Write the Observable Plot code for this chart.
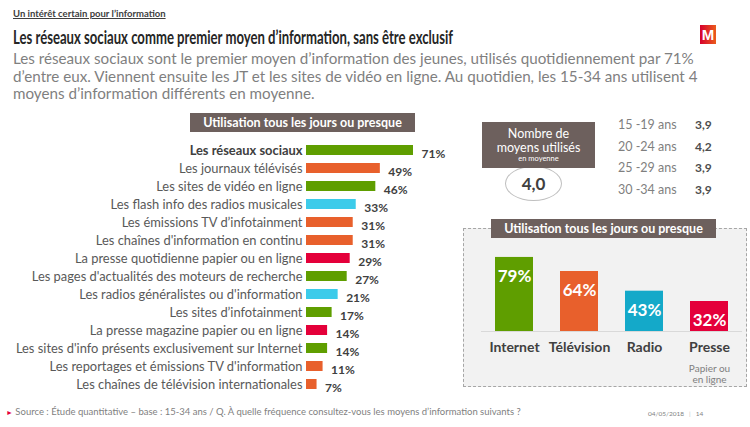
<!DOCTYPE html>
<html>
<head>
<meta charset="utf-8">
<script src="https://cdn.jsdelivr.net/npm/d3@7"></script>
<script src="https://cdn.jsdelivr.net/npm/@observablehq/plot@0.6"></script>
<style>
  html, body { margin: 0; padding: 0; background: #fff; }
  #page { position: relative; width: 750px; height: 427px; overflow: hidden; font-family: Lato, "Open Sans", sans-serif; }
  .abs { position: absolute; }
  #kicker { left: 13px; top: 8px; font-size: 9.5px; font-weight: bold; color: #404040; text-decoration: underline; white-space: nowrap; }
  #title { left: 13px; top: 25px; font-family: Lato, sans-serif; font-size: 19px; font-weight: bold; color: #262626; white-space: nowrap; transform-origin: left top; }
  #subtitle { left: 13px; top: 50px; font-size: 15.2px; line-height: 17.5px; color: #7f7f7f; white-space: nowrap; }
  #logo { left: 700px; top: 25px; width: 16px; height: 19px; background: linear-gradient(90deg, #d6002d, #ea5b1c); color: #fff; font: bold 15px/19px "Liberation Sans", Arial, sans-serif; text-align: center; }
  .hdr { width: 225px; height: 19px; background: #6d605d; color: #fff; font-size: 12.5px; font-weight: bold; text-align: center; line-height: 19px; z-index: 3; white-space: nowrap; }
  #grayBox { left: 463px; top: 228px; width: 284px; height: 159px; background: #f2f2f2; border: 1px dashed #a6a6a6; box-sizing: border-box; z-index: 0; }
  #meanBox { left: 482px; top: 122px; width: 113px; height: 46px; background: #6d605d; color: #fff; text-align: center; z-index: 2; }
  #ellipse { left: 505px; top: 166px; width: 57px; height: 35px; border: 1px solid #bfbfbf; border-radius: 50%; box-sizing: border-box; background: #fff; z-index: 1; text-align: center; font-size: 17px; font-weight: bold; color: #404040; line-height: 33px; }
  #ages { left: 618px; top: 117px; z-index: 2; }
  .ageRow { height: 21.7px; font-size: 12.5px; color: #7f7f7f; position: relative; white-space: nowrap; }
  .ageRow b { position: absolute; left: 77px; color: #4d4d4d; font-size: 12px; }
  #footer { left: 6px; top: 406px; font-size: 9.5px; color: #7f7f7f; white-space: nowrap; }
  #footer .tri { color: #e4003a; font-size: 7px; }
  #date { left: 648px; top: 410px; font-size: 6.5px; color: #7f7f7f; white-space: nowrap; }
</style>
</head>
<body>
<div id="page">
  <div class="abs" id="kicker">Un intérêt certain pour l’information</div>
  <div class="abs" id="title">Les réseaux sociaux comme premier moyen d’information, sans être exclusif</div>
  <div class="abs" id="logo">M</div>
  <div class="abs" id="subtitle">Les réseaux sociaux sont le premier moyen d’information des jeunes, utilisés quotidiennement par 71%<br>d’entre eux. Viennent ensuite les JT et les sites de vidéo en ligne. Au quotidien, les 15-34 ans utilisent 4<br>moyens d’information différents en moyenne.</div>
  <div class="abs hdr" style="left:190px; top:113px;">Utilisation tous les jours ou presque</div>
  <div class="abs" id="grayBox"></div>
  <div class="abs hdr" style="left:491px; top:219px;">Utilisation tous les jours ou presque</div>
  <div class="abs" id="meanBox">
    <div style="font-size:12.5px; line-height:13.5px; padding-top:5px;">Nombre de</div>
    <div style="font-size:12.5px; line-height:13.5px;">moyens utilisés</div>
    <div style="font-size:7.5px; line-height:9px;">en moyenne</div>
  </div>
  <div class="abs" id="ellipse"></div>
  <div class="abs" id="ages"></div>
  <div class="abs" id="footer"><span class="tri">&#9658;</span> Source : Étude quantitative – base : 15-34 ans / Q. À quelle fréquence consultez-vous les moyens d’information suivants ?</div>
  <div class="abs" id="date">04/05/2018 &nbsp;&nbsp;<span style="color:#bfbfbf">|</span>&nbsp;&nbsp; 14</div>
</div>
<script>
// ---- Data ----
const categories = [
  "Les réseaux sociaux",
  "Les journaux télévisés",
  "Les sites de vidéo en ligne",
  "Les flash info des radios musicales",
  "Les émissions TV d’infotainment",
  "Les chaînes d'information en continu",
  "La presse quotidienne papier ou en ligne",
  "Les pages d'actualités des moteurs de recherche",
  "Les radios généralistes ou d'information",
  "Les sites d’infotainment",
  "La presse magazine papier ou en ligne",
  "Les sites d'info présents exclusivement sur Internet",
  "Les reportages et émissions TV d'information",
  "Les chaînes de télévision internationales"
];
const values = [71, 49, 46, 33, 31, 31, 29, 27, 21, 17, 14, 14, 11, 7];
const categoryMedia = ["Internet", "Télévision", "Internet", "Radio", "Télévision", "Télévision", "Presse", "Internet", "Radio", "Internet", "Presse", "Internet", "Télévision", "Télévision"];

const mediaTypes = ["Internet", "Télévision", "Radio", "Presse"];
const mediaValues = [79, 64, 43, 32];
const mediaNotes = ["", "", "", "Papier ou\nen ligne"];

const leftColors = ["#5f9e00", "#e8602c", "#3ccbea", "#e4003a"];
const rightColors = ["#5f9e00", "#e8602c", "#14a9c9", "#e4003a"];

const ageGroups = ["15 -19 ans", "20 -24 ans", "25 -29 ans", "30 -34 ans"];
const ageMeans = ["3,9", "4,2", "3,9", "3,9"];
const overallMean = "4,0";

// ---- HTML bits ----
const title = document.getElementById("title");
title.style.transform = `scaleX(${440 / title.getBoundingClientRect().width})`;

document.getElementById("ellipse").textContent = overallMean;
const ages = document.getElementById("ages");
ageGroups.forEach((g, i) => {
  const row = document.createElement("div");
  row.className = "ageRow";
  row.textContent = g;
  const b = document.createElement("b");
  b.textContent = ageMeans[i];
  row.appendChild(b);
  ages.appendChild(row);
});

const page = document.getElementById("page");
const svgStyle = "position: absolute; left: 0; top: 0; z-index: 1; background: transparent; overflow: visible; font-family: Lato, 'Open Sans', sans-serif;";

// ---- Left chart ----
const rows = categories.map((c, i) => ({label: c, value: values[i], media: categoryMedia[i]}));
const left = Plot.plot({
  width: 750, height: 427,
  marginLeft: 306, marginRight: 293.3, marginTop: 135.65, marginBottom: 29.65,
  style: svgStyle,
  x: {domain: [0, 100], axis: null},
  y: {domain: categories, axis: null, paddingInner: 0.46, paddingOuter: 0.23},
  color: {domain: mediaTypes, range: leftColors},
  marks: [
    Plot.barX(rows, {x: "value", y: "label", fill: "media"}),
    Plot.text(rows, {x: "value", y: "label", text: d => d.value + "%", dx: 8, dy: 4, textAnchor: "start", fontWeight: "bold", fontSize: 12, fill: "#404040"}),
    Plot.text(rows.slice(1), {x: 0, y: "label", text: "label", dx: -4, textAnchor: "end", fontSize: 12.9, fill: "#595959"}),
    Plot.text(rows.slice(0, 1), {x: 0, y: "label", text: "label", dx: -4, textAnchor: "end", fontSize: 12.9, fontWeight: "bold", fill: "#404040"})
  ]
});
page.appendChild(left);

// ---- Right chart ----
const mrows = mediaTypes.map((m, i) => ({media: m, value: mediaValues[i], note: mediaNotes[i]}));
const right = Plot.plot({
  width: 750, height: 427,
  marginLeft: 481, marginRight: 8, marginTop: 237.25, marginBottom: 96,
  style: svgStyle,
  x: {domain: mediaTypes, axis: null, paddingInner: 0.42, paddingOuter: 0.21},
  y: {domain: [0, 100], axis: null},
  color: {domain: mediaTypes, range: rightColors},
  marks: [
    Plot.barY(mrows, {x: "media", y: "value", fill: "media"}),
    Plot.ruleY([0], {stroke: "#d9d9d9"}),
    Plot.text(mrows, {x: "media", y: "value", text: d => d.value + "%", dy: 19, fill: "white", fontWeight: "bold", fontSize: 17}),
    Plot.text(mrows, {x: "media", y: 0, text: "media", dy: 16, fill: "#404040", fontWeight: "bold", fontSize: 14}),
    Plot.text(mrows, {x: "media", y: 0, text: "note", dy: 42, fill: "#7f7f7f", fontSize: 10, lineHeight: 1.1})
  ]
});
page.appendChild(right);
</script>
</body>
</html>
